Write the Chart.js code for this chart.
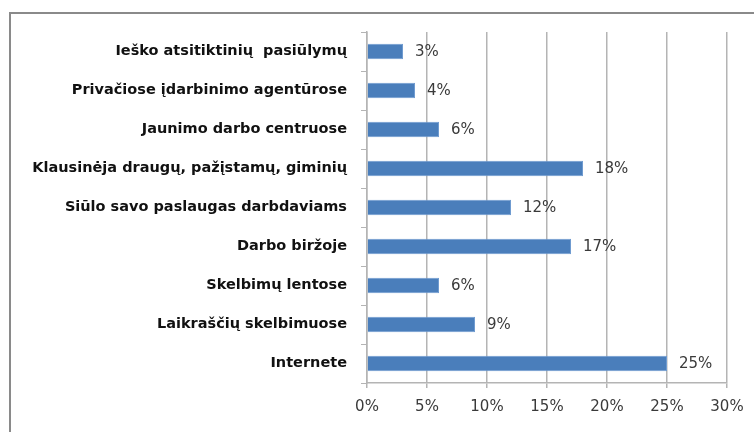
<!DOCTYPE html>
<html>
<head>
<meta charset="utf-8">
<script src="https://cdn.jsdelivr.net/npm/chart.js@4/dist/chart.umd.min.js"></script>
<style>
  html, body { margin: 0; padding: 0; background: #fff; overflow: hidden; }
  #wrap { position: relative; width: 754px; height: 432px; }
  #frame {
    position: absolute; left: 9px; top: 12px; width: 900px; height: 600px;
    border: 2px solid #8a8a8a; box-sizing: border-box;
  }
  canvas { position: absolute; left: 0; top: 0; }
</style>
</head>
<body>
<div id="wrap">
  <div id="frame"></div>
  <canvas id="chart" width="754" height="432"></canvas>
</div>
<script>
'use strict';

// ── Data ──────────────────────────────────────────────────────────────
const categories = [
  'Ieško atsitiktinių  pasiūlymų',
  'Privačiose įdarbinimo agentūrose',
  'Jaunimo darbo centruose',
  'Klausinėja draugų, pažįstamų, giminių',
  'Siūlo savo paslaugas darbdaviams',
  'Darbo biržoje',
  'Skelbimų lentose',
  'Laikraščių skelbimuose',
  'Internete',
];
const shares = [3, 4, 6, 18, 12, 17, 6, 9, 25];
const xTicks = [0, 5, 10, 15, 20, 25, 30];

const BAR_BLUE = '#4a7ebb';
const TEXT = '#3a3a3a';
const GRID = '#b4b4b4';

// ── Value labels to the right of each bar ─────────────────────────────
const valueLabels = {
  id: 'valueLabels',
  afterDatasetsDraw(chart) {
    const ctx = chart.ctx;
    const meta = chart.getDatasetMeta(0);
    ctx.save();
    ctx.font = '15px "DejaVu Sans"';
    ctx.fillStyle = TEXT;
    ctx.textAlign = 'left';
    ctx.textBaseline = 'middle';
    meta.data.forEach((bar, i) => {
      ctx.fillText(shares[i] + '%', bar.x + 12, bar.y + 1);
    });
    ctx.restore();
  },
};

new Chart(document.getElementById('chart'), {
  type: 'bar',
  data: {
    labels: categories,
    datasets: [{
      data: shares,
      backgroundColor: BAR_BLUE,
      borderColor: '#6f9bd0',
      borderWidth: 1,
      barPercentage: 0.4,
      categoryPercentage: 1,
    }],
  },
  options: {
    indexAxis: 'y',
    responsive: false,
    animation: false,
    layout: { padding: { left: 0, top: 32, right: 27, bottom: 0 } },
    plugins: {
      legend: { display: false },
      tooltip: { enabled: false },
    },
    scales: {
      x: {
        min: 0, max: 30,
        afterBuildTicks: s => { s.ticks = xTicks.map(v => ({ value: v })); },
        afterFit: s => { s.height = 49; },
        grid: { color: GRID, lineWidth: 1.5, tickLength: 5 },
        border: { color: GRID, width: 1.5 },
        ticks: {
          color: TEXT, padding: 10,
          font: { family: 'DejaVu Sans', size: 15 },
          callback: v => v + '%',
        },
      },
      y: {
        afterFit: s => { s.width = 367; },
        grid: { drawOnChartArea: false, drawTicks: true, tickLength: 6, color: GRID, offset: true },
        border: { color: GRID, width: 1.5 },
        ticks: {
          color: '#111', padding: 14,
          font: { family: 'DejaVu Sans', size: 14.5, weight: 'bold' },
        },
      },
    },
  },
  plugins: [valueLabels],
});
</script>
</body>
</html>
